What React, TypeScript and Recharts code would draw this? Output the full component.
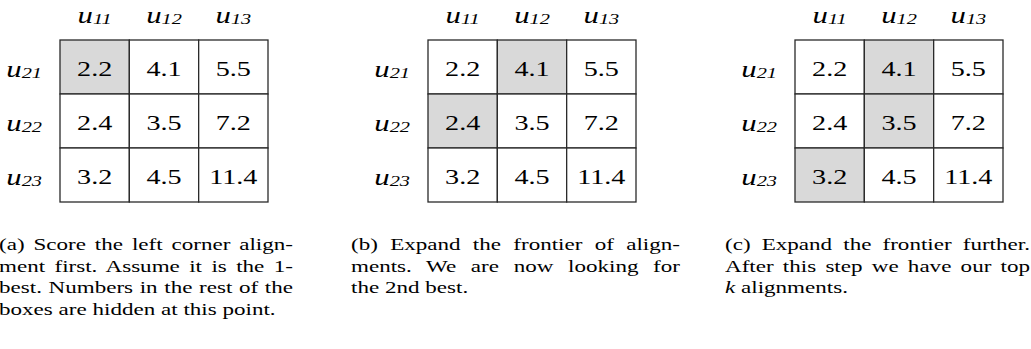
import React from 'react';
import { BarChart, Bar, XAxis, YAxis } from 'recharts';

// grid labels and scores
const colLabels = ['u11', 'u12', 'u13'];
const rowLabels = ['u21', 'u22', 'u23'];
const scoresU21 = [2.2, 4.1, 5.5];
const scoresU22 = [2.4, 3.5, 7.2];
const scoresU23 = [3.2, 4.5, 11.4];
const colTicks = [0.5, 1.5, 2.5];

// shaded cells per step, as [row, col]
const shadedA = [[0, 0]];
const shadedB = [[0, 1], [1, 0]];
const shadedC = [[0, 1], [1, 1], [2, 0]];

const captionA = [
  '(a) Score the left corner align-',
  'ment first. Assume it is the 1-',
  'best. Numbers in the rest of the',
  'boxes are hidden at this point.',
];
const captionB = [
  '(b) Expand the frontier of align-',
  'ments. We are now looking for',
  'the 2nd best.',
];
const captionC = [
  '(c) Expand the frontier further.',
  'After this step we have our top',
  'k alignments.',
];

const SERIF = '"Liberation Serif", "Times New Roman", serif';
const STRETCH = 1.31; // the figure is stretched sideways
const LINE = '#2a2a2a';
const SHADE = '#d9d9d9';
const INK = '#000';

const scoreRows = [scoresU21, scoresU22, scoresU23];
const tableData = rowLabels.map((row, i) => ({
  row,
  c0: 1,
  c1: 1,
  c2: 1,
  s0: scoreRows[i][0],
  s1: scoreRows[i][1],
  s2: scoreRows[i][2],
}));

const Sym = ({ x, y, label, anchor }: { x: number; y: number; label: string; anchor: 'middle' | 'end' }) => (
  <text
    transform={`translate(${x} ${y}) scale(${STRETCH} 1)`}
    textAnchor={anchor}
    fontFamily={SERIF}
    fontStyle="italic"
    fill={INK}
  >
    <tspan fontSize={23.5}>{label[0]}</tspan>
    <tspan fontSize={15.5} dy={1}>{label.slice(1)}</tspan>
  </text>
);

const cellShape = (col: number, shaded: number[][]) => (props: any) => {
  const { x, y, width, height, payload } = props;
  const r = rowLabels.indexOf(payload.row);
  const on = shaded.some(([sr, sc]) => sr === r && sc === col);
  return (
    <g>
      <rect x={x} y={y} width={width} height={height} fill={on ? SHADE : '#fff'} stroke={LINE} strokeWidth={1.3} />
      <text
        transform={`translate(${x + width / 2} ${y + height / 2 + 8.5}) scale(${STRETCH} 1)`}
        textAnchor="middle"
        fontFamily={SERIF}
        fontSize={21.5}
        fill={INK}
      >
        {payload[`s${col}`].toFixed(1)}
      </text>
    </g>
  );
};

const Panel = ({ left, shaded }: { left: number; shaded: number[][] }) => (
  <div style={{ position: 'absolute', left, top: 0 }}>
    <BarChart
      width={274}
      height={208}
      data={tableData}
      layout="vertical"
      margin={{ top: 0, right: 6, bottom: 6, left: 0 }}
      barCategoryGap={0}
    >
      <XAxis
        type="number"
        orientation="top"
        domain={[0, 3]}
        ticks={colTicks}
        interval={0}
        axisLine={false}
        tickLine={false}
        tickSize={0}
        tickMargin={17}
        height={40}
        tick={(p: any) => (
          <Sym x={p.x} y={p.y} label={colLabels[Math.floor(p.payload.value)]} anchor="middle" />
        )}
      />
      <YAxis
        type="category"
        dataKey="row"
        width={60}
        interval={0}
        axisLine={false}
        tickLine={false}
        tickSize={0}
        tickMargin={18}
        tick={(p: any) => <Sym x={p.x} y={p.y + 10} label={p.payload.value} anchor="end" />}
      />
      {[0, 1, 2].map((col) => (
        <Bar
          key={col}
          dataKey={`c${col}`}
          stackId="grid"
          isAnimationActive={false}
          shape={cellShape(col, shaded)}
        />
      ))}
    </BarChart>
  </div>
);

const Caption = ({ left, width, lines }: { left: number; width: number; lines: string[] }) => (
  <div
    style={{
      position: 'absolute',
      left,
      top: 234,
      width: width / STRETCH,
      transform: `scaleX(${STRETCH})`,
      transformOrigin: 'left top',
      fontFamily: SERIF,
      fontSize: 17.6,
      lineHeight: '21.5px',
      color: INK,
    }}
  >
    {lines.map((line, i) => (
      <div
        key={i}
        style={{ textAlign: 'justify', textAlignLast: i < lines.length - 1 ? 'justify' : 'left' }}
      >
        {line.split(' ').map((w, j) => (
          <React.Fragment key={j}>
            {j > 0 ? ' ' : ''}
            {w === 'k' ? <i>k</i> : w}
          </React.Fragment>
        ))}
      </div>
    ))}
  </div>
);

export default function App() {
  return (
    <div
      style={{
        position: 'absolute',
        left: 0,
        top: 0,
        width: 1031,
        height: 349,
        background: '#fff',
        overflow: 'hidden',
      }}
    >
      <Panel left={0} shaded={shadedA} />
      <Panel left={367.5} shaded={shadedB} />
      <Panel left={734.7} shaded={shadedC} />
      <Caption left={-1} width={294} lines={captionA} />
      <Caption left={351} width={329} lines={captionB} />
      <Caption left={725} width={305} lines={captionC} />
    </div>
  );
}
